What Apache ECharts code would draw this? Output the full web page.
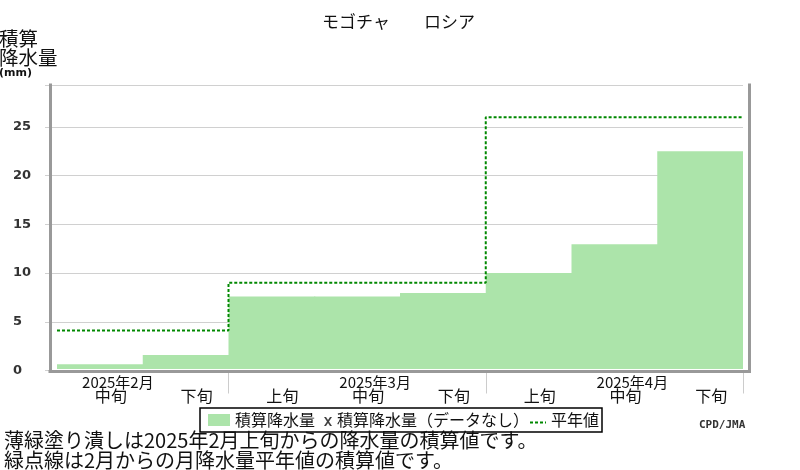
<!DOCTYPE html>
<html>
<head>
<meta charset="utf-8">
<script src="https://cdn.jsdelivr.net/npm/echarts@6/dist/echarts.min.js"></script>
<style>
html, body { margin: 0; padding: 0; background: #fff; }
#chart { width: 800px; height: 470px; }
</style>
</head>
<body>
<div id="chart"></div>
<script>
// dekads shown on the axis (Feb mid .. Apr late)
var dekads = ['中旬', '下旬', '上旬', '中旬', '下旬', '上旬', '中旬', '下旬'];
var months = ['2025年2月', '2025年3月', '2025年4月'];
var monthLabelAt = [0, 3, 6];      // dekad index under which each month name sits
var monthEnds = [2, 5, 8];         // dekad boundary where each month ends
// accumulated precipitation (mm)
var precip = [0.65, 1.6, 7.6, 7.6, 7.95, 10.0, 12.95, 22.5];
// accumulated normal (mm), per dekad
var normals = [4.1, 4.1, 9.0, 9.0, 9.0, 26.0, 26.0, 26.0];
var yTicks = [0, 5, 10, 15, 20, 25];

var cjk = '"Noto Sans CJK JP", sans-serif';

var barData = precip.map(function (v, i) { return [i, v]; });
var normalData = normals.map(function (v, i) { return [i, v]; });
normalData.push([normals.length, normals[normals.length - 1]]);

var chart = echarts.init(document.getElementById('chart'));

chart.setOption({
    animation: false,
    title: [
        {
            text: 'モゴチャ\u3000\u3000ロシア',
            left: 322, top: 13, padding: 0,
            textStyle: { fontFamily: cjk, fontSize: 17, fontWeight: 'normal', color: '#111' }
        },
        {
            text: '{a|積算}\n{a|降水量}\n{b|(mm)}',
            left: -1, top: 29, padding: 0,
            textStyle: {
                fontWeight: 'normal',
                rich: {
                    a: { fontFamily: cjk, fontSize: 19.5, fontWeight: 'normal', lineHeight: 19, color: '#111' },
                    b: { fontFamily: 'DejaVu Sans', fontSize: 11, fontWeight: 'bold', lineHeight: 12, color: '#111' }
                }
            }
        },
        {
            text: '薄緑塗り潰しは2025年2月上旬からの降水量の積算値です。\n緑点線は2月からの月降水量平年値の積算値です。',
            left: 4, top: 430, padding: 0,
            textStyle: { fontFamily: cjk, fontSize: 20, lineHeight: 20, fontWeight: 'normal', color: '#111' }
        },
        {
            text: 'CPD/JMA',
            left: 699, top: 420, padding: 0,
            textStyle: { fontFamily: 'DejaVu Sans Mono', fontSize: 11, fontWeight: 'bold', color: '#333' }
        }
    ],
    legend: {
        left: 200, top: 408,
        padding: [4, 3, 4, 8],
        borderColor: '#000', borderWidth: 1.5,
        itemWidth: 22, itemHeight: 12, itemGap: -5,
        textStyle: { fontFamily: cjk, fontSize: 16, color: '#111' },
        data: [
            { name: '積算降水量', icon: 'rect' },
            {
                name: '積算降水量（データなし）',
                icon: 'path://M0,0L0.01,0M22,12L21.99,12M14,3L16,3L18,6L20,3L22,3L19,7.5L22,12L20,12L18,9L16,12L14,12L17,7.5Z'
            },
            {
                name: '平年値',
                icon: 'path://M0,0L0.01,0M6,5L9,5L9,7L6,7ZM11,5L14,5L14,7L11,7ZM16,5L19,5L19,7L16,7ZM21,5L22,5L22,7L21,7Z'
            }
        ]
    },
    grid: [
        { left: 57, right: 57, top: 85, bottom: 99.5 },
        { left: 50, right: 50.5, top: 85, bottom: 99 }
    ],
    xAxis: [
        {
            gridIndex: 0, type: 'value', min: 0, max: 8,
            axisLine: { show: false },
            splitLine: { show: false },
            axisTick: {
                show: true, length: 23, customValues: monthEnds,
                lineStyle: { color: '#cccccc', width: 1 }
            },
            axisLabel: {
                show: true, margin: 17, padding: [0, 0, 0, 22],
                customValues: dekads.map(function (d, i) { return i + 0.5; }),
                formatter: function (v) { return dekads[Math.floor(v)]; },
                fontFamily: cjk, fontSize: 16, color: '#111'
            }
        },
        {
            gridIndex: 0, type: 'value', min: 0, max: 8, position: 'bottom',
            axisLine: { show: false },
            axisTick: { show: false },
            splitLine: { show: false },
            axisLabel: {
                show: true, margin: 4, padding: [0, 0, 0, 36],
                customValues: monthLabelAt.map(function (i) { return i + 0.5; }),
                formatter: function (v) { return months[monthLabelAt.indexOf(Math.floor(v))]; },
                fontFamily: cjk, fontSize: 15, color: '#111'
            }
        },
        {
            gridIndex: 1, type: 'value', min: 0, max: 1,
            axisLine: { show: true, lineStyle: { color: '#999999', width: 3, cap: 'square' } },
            axisTick: { show: false }, axisLabel: { show: false }, splitLine: { show: false },
            z: 10
        }
    ],
    yAxis: [
        {
            gridIndex: 0, type: 'value', min: 0, max: 29.3, interval: 5,
            axisLine: { show: false },
            axisTick: { show: true, length: 12, lineStyle: { color: '#d0d0d0' } },
            splitLine: { show: true, lineStyle: { color: '#d0d0d0', width: 1 } },
            axisLabel: {
                margin: 44, align: 'left',
                fontFamily: 'DejaVu Sans', fontSize: 13, fontWeight: 'bold', color: '#333',
                formatter: function (v) { return yTicks.indexOf(v) >= 0 ? String(v) : ''; }
            }
        },
        {
            gridIndex: 1, type: 'value', min: 0, max: 1, position: 'left',
            axisLine: { show: true, lineStyle: { color: '#999999', width: 3, cap: 'square' } },
            axisTick: { show: false }, axisLabel: { show: false }, splitLine: { show: false },
            z: 10
        },
        {
            gridIndex: 1, type: 'value', min: 0, max: 1, position: 'right',
            axisLine: { show: true, lineStyle: { color: '#999999', width: 3, cap: 'square' } },
            axisTick: { show: false }, axisLabel: { show: false }, splitLine: { show: false },
            z: 10
        }
    ],
    series: [
        {
            name: '積算降水量',
            type: 'custom',
            xAxisIndex: 0, yAxisIndex: 0,
            itemStyle: { color: '#ace4aa' },
            data: barData,
            renderItem: function (params, api) {
                var top = api.coord([api.value(0), api.value(1)]);
                var bottom = api.coord([api.value(0) + 1, 0]);
                var last = params.dataIndex === precip.length - 1;
                return {
                    type: 'rect',
                    shape: {
                        x: top[0], y: top[1],
                        width: bottom[0] - top[0] + (last ? 0 : 1),
                        height: bottom[1] - top[1] - 1.5
                    },
                    style: { fill: '#ace4aa' }
                };
            }
        },
        {
            name: '積算降水量（データなし）',
            type: 'scatter',
            xAxisIndex: 0, yAxisIndex: 0,
            itemStyle: { color: '#111' },
            data: []
        },
        {
            name: '平年値',
            type: 'line',
            xAxisIndex: 0, yAxisIndex: 0,
            step: 'end',
            symbol: 'none',
            itemStyle: { color: '#008800' },
            lineStyle: { color: '#008800', width: 2, type: [3, 2] },
            data: normalData,
            z: 5
        }
    ]
});
</script>
</body>
</html>
